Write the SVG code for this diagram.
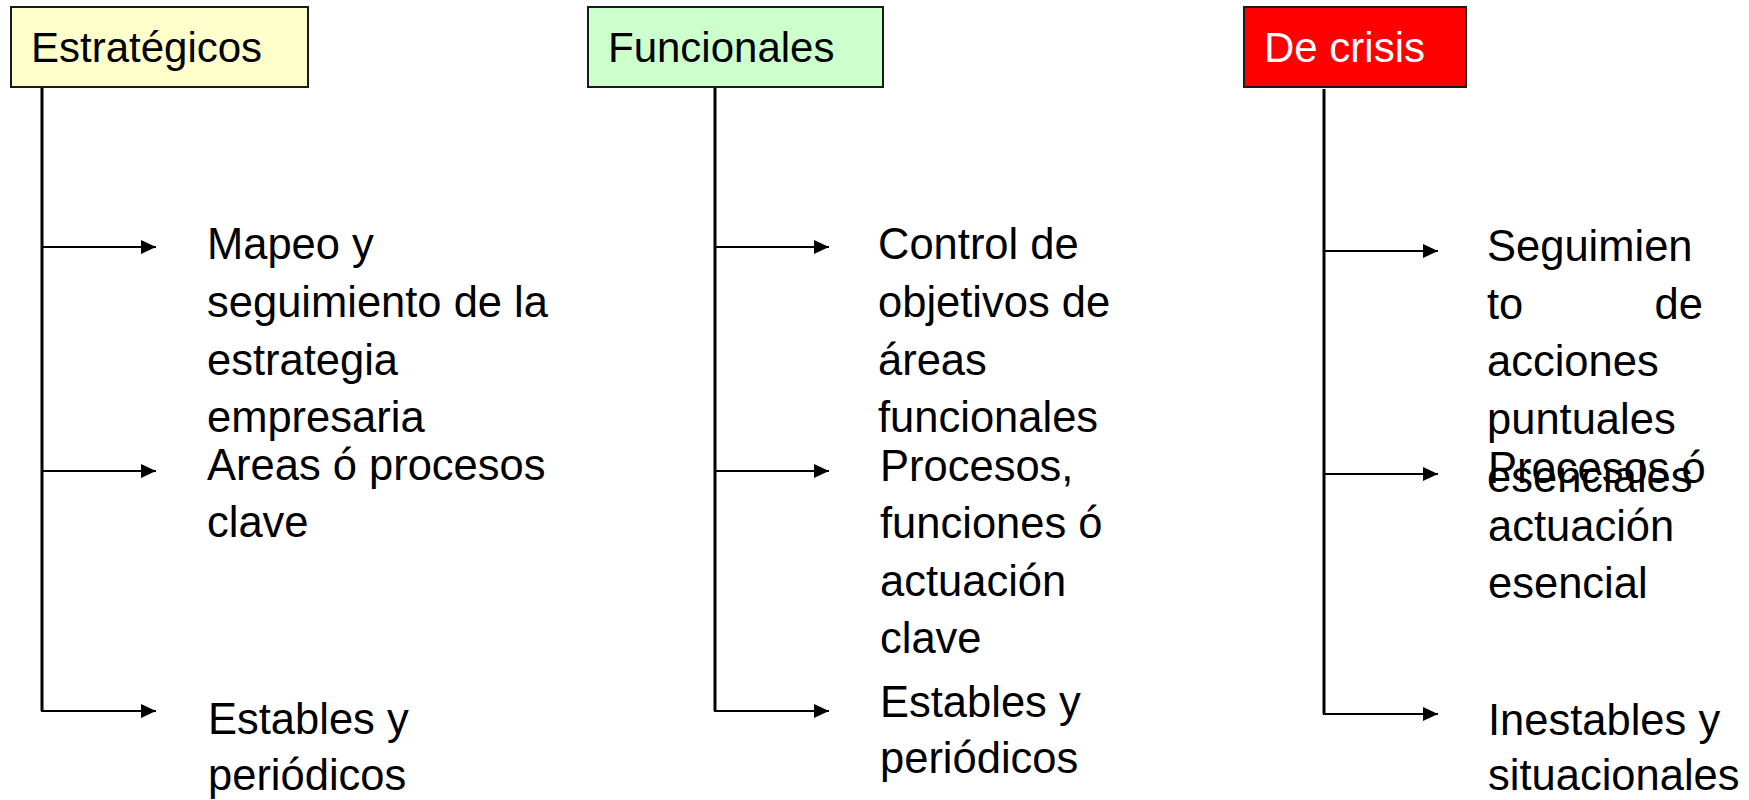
<svg xmlns="http://www.w3.org/2000/svg" width="1749" height="800" viewBox="0 0 1749 800">
<defs>
<style>
.t{font-family:"Liberation Sans",Arial,sans-serif;font-size:43.5px;fill:#000}
.h{font-family:"Liberation Sans",Arial,sans-serif;font-size:42px}
.box{stroke:#1a1a1a;stroke-width:2}
.v{stroke:#000;stroke-width:3;fill:none}
.a{stroke:#000;stroke-width:2;fill:none;marker-end:url(#ah)}
</style>
<marker id="ah" markerUnits="userSpaceOnUse" markerWidth="15" markerHeight="14" refX="15" refY="7" orient="auto">
<path d="M0,0 L15,7 L0,14 z" fill="#000"/>
</marker>
</defs>
<rect width="1749" height="800" fill="#fff"/>
<g id="connectors">
<path class="v" d="M42,87 V711"/>
<path class="a" d="M42,247 H156"/>
<path class="a" d="M42,471 H156"/>
<path class="a" d="M41,711 H156"/>
<path class="v" d="M715,87 V711"/>
<path class="a" d="M715,247 H829"/>
<path class="a" d="M715,471 H829"/>
<path class="a" d="M714,711 H829"/>
<path class="v" d="M1324,89 V714"/>
<path class="a" d="M1324,251 H1438"/>
<path class="a" d="M1324,474 H1438"/>
<path class="a" d="M1323,714 H1438"/>
</g>
<g id="estrategicos">
<rect class="box" x="11" y="7" width="297" height="80" fill="#FFFFCC"/>
<text class="h" x="31" y="62" fill="#000">Estratégicos</text>
</g>
<g id="funcionales">
<rect class="box" x="588" y="7" width="295" height="80" fill="#CCFFCC"/>
<text class="h" x="608" y="62" fill="#000">Funcionales</text>
</g>
<g id="crisis">
<rect class="box" x="1244" y="7" width="222" height="80" fill="#FF0000"/>
<text class="h" x="1264" y="62" fill="#fff">De crisis</text>
</g>
<g id="est-1">
<text class="t" x="207" y="259">Mapeo y</text>
<text class="t" x="207" y="317">seguimiento de la</text>
<text class="t" x="207" y="375">estrategia</text>
<text class="t" x="207" y="432">empresaria</text>
</g>
<g id="est-2">
<text class="t" x="207" y="480">Areas ó procesos</text>
<text class="t" x="207" y="537">clave</text>
</g>
<g id="est-3">
<text class="t" x="208" y="734">Estables y</text>
<text class="t" x="208" y="790">periódicos</text>
</g>
<g id="fun-1">
<text class="t" x="878" y="259">Control de</text>
<text class="t" x="878" y="317">objetivos de</text>
<text class="t" x="878" y="375">áreas</text>
<text class="t" x="878" y="432">funcionales</text>
</g>
<g id="fun-2">
<text class="t" x="880" y="481">Procesos,</text>
<text class="t" x="880" y="538">funciones ó</text>
<text class="t" x="880" y="596">actuación</text>
<text class="t" x="880" y="653">clave</text>
</g>
<g id="fun-3">
<text class="t" x="880" y="717">Estables y</text>
<text class="t" x="880" y="773">periódicos</text>
</g>
<g id="cri-1">
<text class="t" x="1487" y="261">Seguimien</text>
<text class="t" x="1487" y="319">to</text>
<text class="t" x="1703" y="319" text-anchor="end">de</text>
<text class="t" x="1487" y="376">acciones</text>
<text class="t" x="1487" y="434">puntuales</text>
<text class="t" x="1487" y="492">esenciales</text>
</g>
<g id="cri-2">
<text class="t" x="1488" y="483">Procesos ó</text>
<text class="t" x="1488" y="541">actuación</text>
<text class="t" x="1488" y="598">esencial</text>
</g>
<g id="cri-3">
<text class="t" x="1488" y="735">Inestables y</text>
<text class="t" x="1488" y="790">situacionales</text>
</g>
</svg>
